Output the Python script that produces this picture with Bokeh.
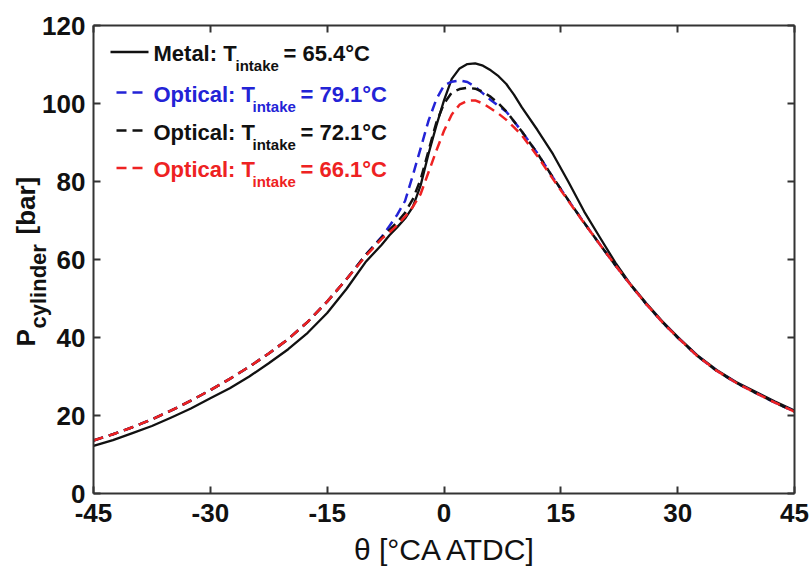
from math import pi
from bokeh.plotting import figure
from bokeh.models import Range1d, LinearAxis, Label, Arrow, FixedTicker
from bokeh.embed import file_html
from bokeh.resources import INLINE

# ---------------- data ----------------
theta = [-45, -42.5, -40, -37.5, -35, -32.5, -30, -27.5, -25, -22.5, -20, -17.5, -15, -12.5, -10,
         -8, -7, -6, -5, -4, -3, -2, -1, 0, 1, 2, 3, 4, 5, 6, 7, 8, 9, 10,
         12, 14, 16, 18, 20, 22, 24, 26, 28, 30,
         32.5, 35, 37.5, 40, 42.5, 45]

p_metal_654 = [12.2, 13.7, 15.5, 17.3, 19.5, 21.8, 24.4, 27.0, 30.0, 33.4, 37.0, 41.2, 46.3, 52.5, 59.5,
               63.8, 66.2, 68.3, 70.5, 73.5, 79.0, 87.0, 94.2, 100.8, 106.3, 109.0, 110.1, 110.3, 109.7,
               108.5, 107.0, 105.0, 102.2, 99.0,
               93.2, 87.0, 79.8, 72.3, 65.7, 59.2, 53.5, 48.7, 44.2, 40.2,
               35.5, 31.7, 28.6, 26.1, 23.6, 21.3]

p_opt_791 = [13.6, 15.2, 17.0, 19.0, 21.3, 23.8, 26.5, 29.4, 32.5, 35.9, 39.6, 44.0, 49.2, 55.0, 61.3,
             65.8, 68.6, 71.5, 75.0, 81.6, 88.5, 95.5, 101.0, 104.6, 105.6, 105.9, 105.5, 104.3, 102.6,
             100.9, 99.4, 97.9, 95.4, 92.8,
             87.2, 81.0, 75.1, 69.4, 63.9, 58.5, 53.4, 48.5, 44.0, 40.0,
             35.3, 31.5, 28.4, 25.8, 23.3, 21.0]

p_opt_721 = [13.6, 15.2, 17.0, 19.0, 21.3, 23.8, 26.5, 29.4, 32.5, 35.9, 39.6, 44.0, 49.2, 55.0, 61.3,
             65.6, 67.6, 69.6, 72.0, 75.5, 80.5, 87.8, 95.0, 100.0, 102.8, 103.7, 104.0, 103.8, 103.0,
             101.7, 100.0, 98.0, 95.4, 92.8,
             87.2, 81.0, 75.1, 69.4, 63.9, 58.5, 53.4, 48.5, 44.0, 40.0,
             35.3, 31.5, 28.4, 25.8, 23.3, 21.0]

p_opt_661 = [13.6, 15.2, 17.0, 19.0, 21.3, 23.8, 26.5, 29.4, 32.5, 35.9, 39.6, 44.0, 49.2, 55.0, 61.0,
             65.3, 67.0, 68.8, 71.0, 73.5, 76.8, 82.3, 87.8, 93.0, 97.2, 99.7, 100.7, 100.8, 100.0,
             98.7, 97.4, 95.8, 93.9, 91.8,
             86.5, 80.6, 74.9, 69.3, 63.9, 58.5, 53.4, 48.5, 44.0, 40.0,
             35.3, 31.5, 28.4, 25.8, 23.3, 21.0]

x_ticks = [-45, -30, -15, 0, 15, 30, 45]
x_tick_labels = ["-45", "-30", "-15", "0", "15", "30", "45"]
y_ticks = [0, 20, 40, 60, 80, 100, 120]

legend_main = ["Metal: T", "Optical: T", "Optical: T", "Optical: T"]
legend_sub = "intake"
legend_val = ["= 65.4°C", "= 79.1°C", "= 72.1°C", "= 66.1°C"]

BLUE = "#2323d6"
RED = "#ee2222"
BLACK = "#111111"
series = [
    (p_metal_654, BLACK, None, 2.3),
    (p_opt_791, BLUE, "10 6", 2.5),
    (p_opt_721, BLACK, "10 6", 2.5),
    (p_opt_661, RED, "10 6", 2.5),
]
text_colors = [BLACK, BLUE, BLACK, RED]

FONT = "Liberation Sans"
AX = "#333333"

# ---------------- layout: frame covers the whole canvas ----------------
W, H = 812, 570
FL, FR, FT, FB = 93, 794, 25, 493          # pixel box of the axes in the picture
XS = (FR - FL) / 90.0
YS = (FB - FT) / 120.0

p = figure(width=W, height=H,
           x_range=Range1d(-45 - FL / XS, 45 + (W - FR) / XS),
           y_range=Range1d(-(H - FB) / YS, 120 + FT / YS),
           output_backend="svg", toolbar_location=None, min_border=0,
           background_fill_color="white", border_fill_color="white")
p.outline_line_color = None
p.grid.visible = False

for ys, col, dash, lw in series:
    kw = dict(line_color=col, line_width=lw, line_join="round")
    if dash:
        kw["line_dash"] = dash
    p.line(theta, ys, **kw)


def style_axis(ax, ticks, loc, bounds, labels=True):
    ax.ticker = FixedTicker(ticks=ticks)
    ax.fixed_location = loc
    ax.bounds = bounds
    ax.axis_line_color = AX
    ax.axis_line_width = 2
    ax.major_tick_line_color = AX
    ax.major_tick_line_width = 2
    ax.major_tick_in = 7
    ax.major_tick_out = 0
    ax.minor_tick_line_color = None
    ax.major_label_text_font = FONT
    ax.major_label_text_font_style = "bold"
    ax.major_label_text_font_size = "26px"
    ax.major_label_text_color = "#111111"
    if not labels:
        ax.major_label_text_font_size = "0px"
        ax.major_label_text_color = None


p.add_layout(LinearAxis(), "above")
p.add_layout(LinearAxis(), "right")
for ax in p.below:
    style_axis(ax, x_ticks, 0, (-45, 45))
    ax.major_label_standoff = 10
    ax.major_label_overrides = {t: s for t, s in zip(x_ticks, x_tick_labels)}
for ax in p.left:
    style_axis(ax, y_ticks, -45, (0, 120))
    ax.major_label_standoff = 8
for ax in p.above:
    style_axis(ax, x_ticks, 120, (-45, 45), labels=False)
for ax in p.right:
    style_axis(ax, y_ticks, 45, (0, 120), labels=False)


def lab(x_img, y_img, text, size, bold=True, color="#111111", align="left", angle=0.0, font=FONT):
    p.add_layout(Label(x=x_img, y=H - y_img, x_units="screen", y_units="screen", text=text,
                       angle=angle, text_font=font, text_font_style="bold" if bold else "normal",
                       text_font_size=size, text_color=color, text_align=align,
                       text_baseline="middle"))


# x-axis title
lab(445, 549, "θ [°CA ATDC]", "30px", bold=False, align="center")

# y-axis title with subscript (rotated)
lab(25, 346, "P", "26px", angle=pi / 2)
lab(38, 328, "cylinder", "22px", angle=pi / 2)
lab(25, 234, "[bar]", "26px", angle=pi / 2)

# legend (manual, to allow subscripts)
row_y = [53, 93.5, 131.5, 169]
sub_x = [235, 252, 252, 252]
val_x = [283, 300, 300, 300]
for i in range(4):
    ys, col, dash, lw = series[i]
    y = row_y[i]
    arr = Arrow(end=None, start=None, x_start=110 if dash is None else 116, y_start=H - y + 1.5,
                x_end=148, y_end=H - y + 1.5, start_units="screen", end_units="screen",
                line_color=col, line_width=lw)
    if dash:
        arr.line_dash = dash
    p.add_layout(arr)
    lab(153, y, legend_main[i], "22px", color=text_colors[i])
    lab(sub_x[i], y + 12, legend_sub, "15px", color=text_colors[i])
    lab(val_x[i], y, legend_val[i], "22px", color=text_colors[i])

open("out.html", "w").write(file_html(p, INLINE))
